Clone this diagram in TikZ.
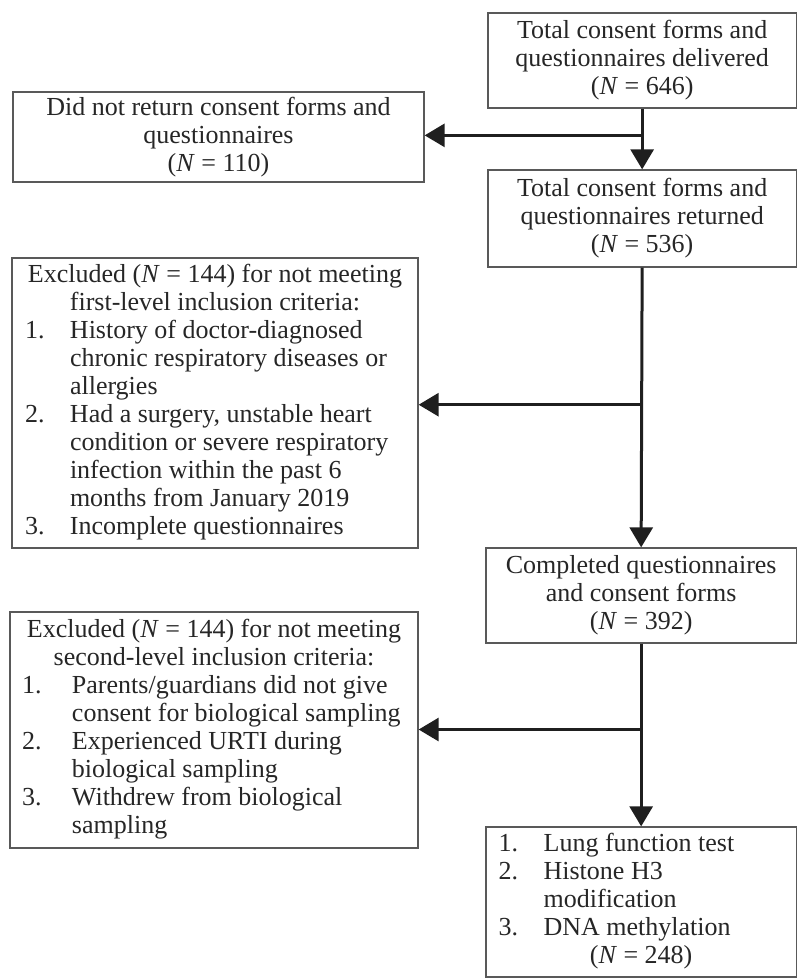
\documentclass[tikz,border=0pt]{standalone}
\usepackage{fontspec}
\setmainfont{Liberation Serif}
\usetikzlibrary{arrows.meta,calc}
\newcommand{\itm}[2][45pt]{\makebox[#1][l]{#2}}
\begin{document}
\begin{tikzpicture}[x=1pt,y=-1pt,
  box/.style={draw=black!65, line width=1.3pt, inner sep=0pt, text=black!85,
    font=\fontsize{26}{28}\selectfont, align=center},
  arr/.style={draw=black!88, line width=3pt, -{Triangle[width=23pt,length=20pt]}}]
\useasboundingbox (0,0) rectangle (797,978);

\node[box, minimum width=308.3pt, minimum height=95pt] (b1) at (642.15,60.5)
  {Total consent forms and\\questionnaires delivered\\(\textit{N} = 646)};
\node[box, minimum width=411pt, minimum height=90pt] (b2) at (218.5,137)
  {Did not return consent forms and\\questionnaires\\(\textit{N} = 110)};
\node[box, minimum width=308.3pt, minimum height=97pt] (b3) at (642.15,218.5)
  {Total consent forms and\\questionnaires returned\\(\textit{N} = 536)};
\node[box, minimum width=406pt, minimum height=290pt] (b4) at (215,403)
  {\begin{tabular}{@{}l@{}l@{}}
   \multicolumn{2}{@{}c@{}}{\makebox[380pt]{Excluded (\textit{N} = 144) for not meeting}}\\
   \multicolumn{2}{@{}c@{}}{first-level inclusion criteria:}\\
   \itm{1.} & History of doctor-diagnosed\\
    & chronic respiratory diseases or\\
    & allergies\\
   \itm{2.} & Had a surgery, unstable heart\\
    & condition or severe respiratory\\
    & infection within the past 6\\
    & months from January 2019\\
   \itm{3.} & Incomplete questionnaires
   \end{tabular}};
\node[box, minimum width=310.3pt, minimum height=95pt] (b5) at (641.15,595.5)
  {Completed questionnaires\\and consent forms\\(\textit{N} = 392)};
\node[box, minimum width=408pt, minimum height=236pt] (b6) at (214,730)
  {\begin{tabular}{@{}l@{}l@{}}
   \multicolumn{2}{@{}c@{}}{\makebox[384pt]{Excluded (\textit{N} = 144) for not meeting}}\\
   \multicolumn{2}{@{}c@{}}{second-level inclusion criteria:}\\
   \itm[50pt]{1.} & Parents/guardians did not give\\
    & consent for biological sampling\\
   \itm[50pt]{2.} & Experienced URTI during\\
    & biological sampling\\
   \itm[50pt]{3.} & Withdrew from biological\\
    & sampling
   \end{tabular}};
\node[box, minimum width=310.3pt, minimum height=150pt] (b7) at (641.15,902)
  {\begin{tabular}{@{}l@{}l@{}}
   \itm{1.} & Lung function test\\
   \itm{2.} & Histone H3\\
    & modification\\
   \itm{3.} & DNA methylation\\
   \multicolumn{2}{@{}c@{}}{\makebox[285pt]{(\textit{N} = 248)}}
   \end{tabular}};

\coordinate (j1) at ($(b1.south)!0.44!(b3.north)$);
\coordinate (j2) at ($(b3.south)!0.49!(b5.north)$);
\coordinate (j3) at ($(b5.south)!0.47!(b7.north)$);
\draw[arr] (b1.south) -- (b3.north);
\draw[arr] (j1) -- (j1 -| b2.east);
\draw[arr] (b3.south) -- (b5.north);
\draw[arr] (j2) -- (j2 -| b4.east);
\draw[arr] (b5.south) -- (b7.north);
\draw[arr] (j3) -- (j3 -| b6.east);
\end{tikzpicture}
\end{document}
